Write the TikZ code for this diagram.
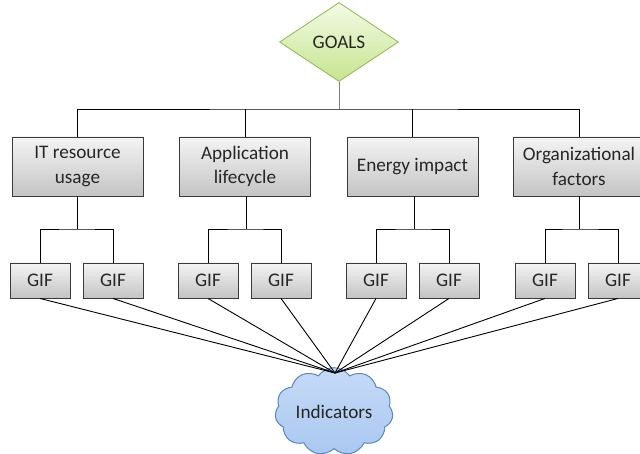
\documentclass[tikz,border=0pt]{standalone}
\usepackage{fontspec}
\setmainfont{Carlito}
\usetikzlibrary{shapes.geometric,shapes.symbols}
\definecolor{txt}{HTML}{262626}
\definecolor{boxtop}{HTML}{F4F4F4}
\definecolor{boxbot}{HTML}{C4C4C4}
\definecolor{boxline}{HTML}{3A3A3A}
\definecolor{gtop}{HTML}{F3FBE6}
\definecolor{gbot}{HTML}{C6E48E}
\definecolor{gline}{HTML}{9BBB59}
\definecolor{ctop}{HTML}{C6DAF7}
\definecolor{cbot}{HTML}{A9C8F0}
\definecolor{cline}{HTML}{5687C4}
\tikzset{
  base/.style={font=\fontsize{19.2}{24.5}\selectfont, text=txt, align=center, inner sep=0pt},
  catbox/.style={base, draw=boxline, line width=0.9pt, top color=boxtop, bottom color=boxbot, minimum width=131pt, minimum height=59pt},
  gifbox/.style={base, draw=boxline, line width=0.9pt, top color=boxtop, bottom color=boxbot, minimum width=60pt, minimum height=35pt},
  goalbox/.style={base, diamond, draw=gline, line width=0.9pt, top color=gtop, bottom color=gbot, minimum width=119pt, minimum height=79pt},
  cloudbox/.style={base, cloud, cloud puffs=11, cloud puff arc=110, aspect=1.45, draw=cline, line width=1pt, top color=ctop, bottom color=cbot, minimum width=118pt, minimum height=83pt},
  wire/.style={draw=black, line width=0.9pt},
}
\begin{document}
\begin{tikzpicture}[x=1pt,y=-1pt]
\useasboundingbox (0,0) rectangle (640,454);
% top
\node[goalbox] (goals) at (339,42) {GOALS};
\coordinate (bus) at (339,109);
\draw[draw=gray, line width=0.9pt] (goals.south) -- (bus);
% categories
\node[catbox] (it)  at (77.5,166.5) {IT resource\\usage};
\node[catbox] (app) at (245,166.5) {Application\\lifecycle};
\node[catbox] (en)  at (412.5,166.5) {Energy impact};
\node[catbox] (org) at (579,166.5) {Organizational\\factors};
\draw[wire] (it.north) |- (bus) -| (org.north);
\draw[wire] (app.north) -- (app.north |- bus);
\draw[wire] (en.north) -- (en.north |- bus);
% GIFs
\node[gifbox] (g1) at (40,280.5) {GIF};
\node[gifbox] (g2) at (113,280.5) {GIF};
\node[gifbox] (g3) at (208,280.5) {GIF};
\node[gifbox] (g4) at (281,280.5) {GIF};
\node[gifbox] (g5) at (376,280.5) {GIF};
\node[gifbox] (g6) at (449,280.5) {GIF};
\node[gifbox] (g7) at (545,280.5) {GIF};
\node[gifbox] (g8) at (618,280.5) {GIF};
\coordinate (b1) at (77,229);
\coordinate (b2) at (246,229);
\coordinate (b3) at (414,229);
\coordinate (b4) at (579,229);
\draw[wire] (it.south -| b1) -- (b1);
\draw[wire] (app.south -| b2) -- (b2);
\draw[wire] (en.south -| b3) -- (b3);
\draw[wire] (org.south -| b4) -- (b4);
\draw[wire] (g1.north) |- (b1) -| (g2.north);
\draw[wire] (g3.north) |- (b2) -| (g4.north);
\draw[wire] (g5.north) |- (b3) -| (g6.north);
\draw[wire] (g7.north) |- (b4) -| (g8.north);
% cloud
\node[cloudbox] (ind) at (334,411.5) {Indicators};
\coordinate (conv) at (335,373);
\foreach \g in {g1,g2,g3,g4,g5,g6,g7,g8}{
  \draw[wire] (\g.south) -- (conv);
}
\end{tikzpicture}
\end{document}
